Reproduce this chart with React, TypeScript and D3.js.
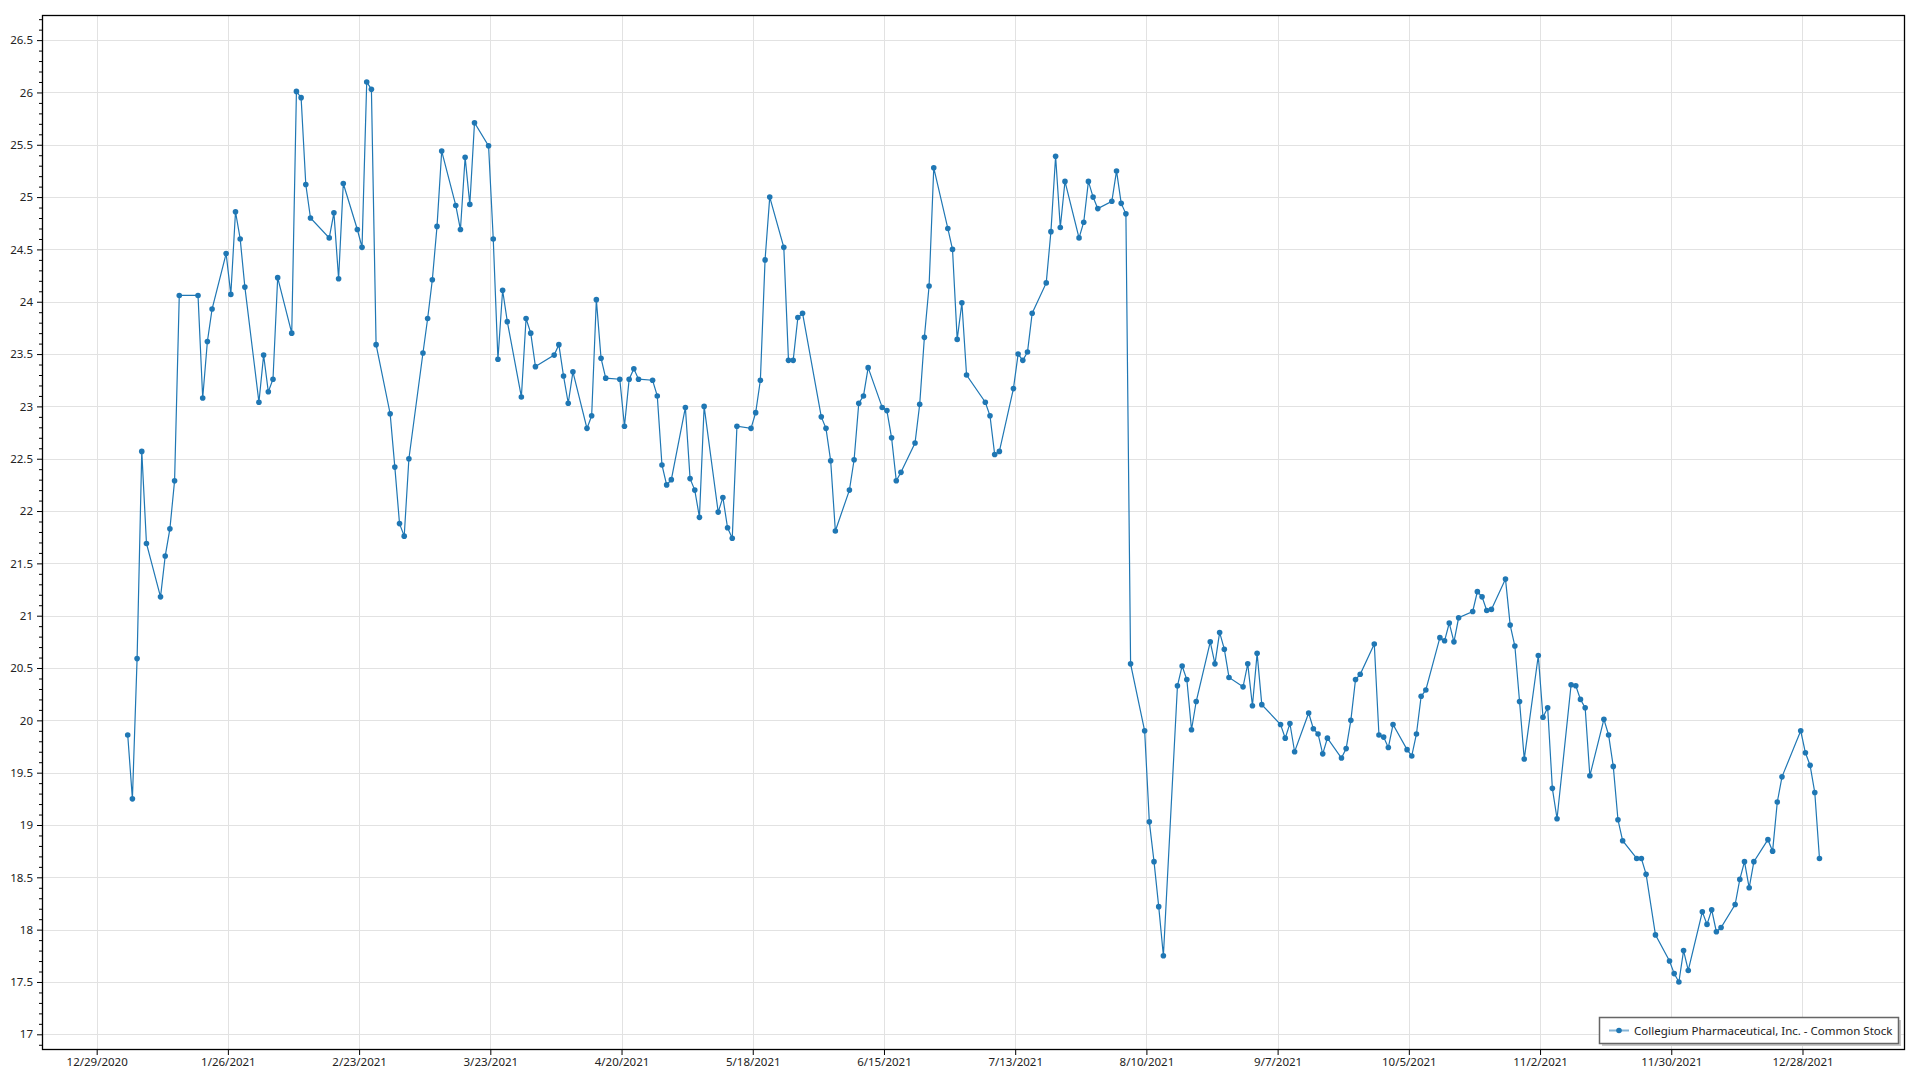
import { useEffect, useRef } from 'react';
import * as d3 from 'd3';

// trading days of 2021 (M/D) and closing prices
const tradeDates = [
  '1/4', '1/5', '1/6', '1/7', '1/8', '1/11', '1/12', '1/13', '1/14', '1/15', '1/19', '1/20', '1/21', '1/22', '1/25', '1/26', '1/27', '1/28', '1/29',
  '2/1', '2/2', '2/3', '2/4', '2/5', '2/8', '2/9', '2/10', '2/11', '2/12', '2/16', '2/17', '2/18', '2/19', '2/22', '2/23', '2/24', '2/25', '2/26',
  '3/1', '3/2', '3/3', '3/4', '3/5', '3/8', '3/9', '3/10', '3/11', '3/12', '3/15', '3/16', '3/17', '3/18', '3/19', '3/22', '3/23', '3/24', '3/25', '3/26', '3/29', '3/30', '3/31',
  '4/1', '4/5', '4/6', '4/7', '4/8', '4/9', '4/12', '4/13', '4/14', '4/15', '4/16', '4/19', '4/20', '4/21', '4/22', '4/23', '4/26', '4/27', '4/28', '4/29', '4/30',
  '5/3', '5/4', '5/5', '5/6', '5/7', '5/10', '5/11', '5/12', '5/13', '5/14', '5/17', '5/18', '5/19', '5/20', '5/21', '5/24', '5/25', '5/26', '5/27', '5/28',
  '6/1', '6/2', '6/3', '6/4', '6/7', '6/8', '6/9', '6/10', '6/11', '6/14', '6/15', '6/16', '6/17', '6/18', '6/21', '6/22', '6/23', '6/24', '6/25', '6/28', '6/29', '6/30',
  '7/1', '7/2', '7/6', '7/7', '7/8', '7/9', '7/12', '7/13', '7/14', '7/15', '7/16', '7/19', '7/20', '7/21', '7/22', '7/23', '7/26', '7/27', '7/28', '7/29', '7/30',
  '8/2', '8/3', '8/4', '8/5', '8/6', '8/9', '8/10', '8/11', '8/12', '8/13', '8/16', '8/17', '8/18', '8/19', '8/20', '8/23', '8/24', '8/25', '8/26', '8/27', '8/30', '8/31',
  '9/1', '9/2', '9/3', '9/7', '9/8', '9/9', '9/10', '9/13', '9/14', '9/15', '9/16', '9/17', '9/20', '9/21', '9/22', '9/23', '9/24', '9/27', '9/28', '9/29', '9/30',
  '10/1', '10/4', '10/5', '10/6', '10/7', '10/8', '10/11', '10/12', '10/13', '10/14', '10/15', '10/18', '10/19', '10/20', '10/21', '10/22', '10/25', '10/26', '10/27', '10/28', '10/29',
  '11/1', '11/2', '11/3', '11/4', '11/5', '11/8', '11/9', '11/10', '11/11', '11/12', '11/15', '11/16', '11/17', '11/18', '11/19', '11/22', '11/23', '11/24', '11/26', '11/29', '11/30',
  '12/1', '12/2', '12/3', '12/6', '12/7', '12/8', '12/9', '12/10', '12/13', '12/14', '12/15', '12/16', '12/17', '12/20', '12/21', '12/22', '12/23', '12/27', '12/28', '12/29', '12/30', '12/31',
];

const closePrices = [
  19.86, 19.25, 20.59, 22.57, 21.69, 21.18, 21.57, 21.83, 22.29, 24.06, 24.06, 23.08, 23.62, 23.93, 24.46, 24.07, 24.86, 24.6, 24.14,
  23.04, 23.49, 23.14, 23.26, 24.23, 23.7, 26.01, 25.95, 25.12, 24.8, 24.61, 24.85, 24.22, 25.13, 24.69, 24.52, 26.1, 26.03, 23.59,
  22.93, 22.42, 21.88, 21.76, 22.5, 23.51, 23.84, 24.21, 24.72, 25.44, 24.92, 24.69, 25.38, 24.93, 25.71, 25.49, 24.6, 23.45, 24.11, 23.81, 23.09, 23.84, 23.7,
  23.38, 23.49, 23.59, 23.29, 23.03, 23.33, 22.79, 22.91, 24.02, 23.46, 23.27, 23.26, 22.81, 23.26, 23.36, 23.26, 23.25, 23.1, 22.44, 22.25, 22.3,
  22.99, 22.31, 22.2, 21.94, 23.0, 21.99, 22.13, 21.84, 21.74, 22.81, 22.79, 22.94, 23.25, 24.4, 25.0, 24.52, 23.44, 23.44, 23.85, 23.89,
  22.9, 22.79, 22.48, 21.81, 22.2, 22.49, 23.03, 23.1, 23.37, 22.99, 22.96, 22.7, 22.29, 22.37, 22.65, 23.02, 23.66, 24.15, 25.28, 24.7, 24.5, 23.64,
  23.99, 23.3, 23.04, 22.91, 22.54, 22.57, 23.17, 23.5, 23.44, 23.52, 23.89, 24.18, 24.67, 25.39, 24.71, 25.15, 24.61, 24.76, 25.15, 25.0, 24.89,
  24.96, 25.25, 24.94, 24.84, 20.54, 19.9, 19.03, 18.65, 18.22, 17.75, 20.33, 20.52, 20.39, 19.91, 20.18, 20.75, 20.54, 20.84, 20.68, 20.41, 20.32, 20.54,
  20.14, 20.64, 20.15, 19.96, 19.83, 19.97, 19.7, 20.07, 19.92, 19.87, 19.68, 19.83, 19.64, 19.73, 20.0, 20.39, 20.44, 20.73, 19.86, 19.84, 19.74,
  19.96, 19.72, 19.66, 19.87, 20.23, 20.29, 20.79, 20.76, 20.93, 20.75, 20.98, 21.04, 21.23, 21.18, 21.05, 21.06, 21.35, 20.91, 20.71, 20.18, 19.63,
  20.62, 20.03, 20.12, 19.35, 19.06, 20.34, 20.33, 20.2, 20.12, 19.47, 20.01, 19.86, 19.56, 19.05, 18.85, 18.68, 18.68, 18.53, 17.95, 17.7, 17.58,
  17.5, 17.8, 17.61, 18.17, 18.05, 18.19, 17.98, 18.02, 18.24, 18.48, 18.65, 18.4, 18.65, 18.86, 18.75, 19.22, 19.46, 19.9, 19.69, 19.57, 19.31, 18.68,
];

const xTickLabels = [
  '12/29/2020', '1/26/2021', '2/23/2021', '3/23/2021', '4/20/2021', '5/18/2021', '6/15/2021',
  '7/13/2021', '8/10/2021', '9/7/2021', '10/5/2021', '11/2/2021', '11/30/2021', '12/28/2021',
];

const yTickLabels = ['17', '17.5', '18', '18.5', '19', '19.5', '20', '20.5', '21', '21.5', '22', '22.5', '23', '23.5', '24', '24.5', '25', '25.5', '26', '26.5'];

const seriesName = 'Collegium Pharmaceutical, Inc. - Common Stock';

const width = 1920;
const height = 1080;
const margin = { top: 15, right: 15, bottom: 30, left: 42 };
const lineColor = '#1f77b4';
const font = '"Noto Sans", "Open Sans", sans-serif';

function toDate(s: string, year?: number, hour = 0) {
  const [m, d, y] = s.split('/').map(Number);
  return new Date(year ?? y, m - 1, d, hour);
}

export default function App() {
  const ref = useRef<SVGSVGElement>(null);

  useEffect(() => {
    const svg = d3.select(ref.current);
    svg.selectAll('*').remove();

    const data = tradeDates.map((d, i) => ({ date: toDate(d, 2021, 15), value: closePrices[i] }));
    const xTicks = xTickLabels.map(s => toDate(s));
    const yTicks = yTickLabels.map(Number);

    const x = d3
      .scaleTime()
      .domain([new Date(2020, 11, 17, 8), new Date(2022, 0, 18, 21)])
      .range([margin.left, width - margin.right]);
    const y = d3
      .scaleLinear()
      .domain([16.85, 26.74])
      .range([height - margin.bottom, margin.top]);

    const minorTicks = d3.range(169, 268).map(v => v / 10).filter(v => Math.round(v * 10) % 5 !== 0);

    // grid
    const grid = svg.append('g').attr('class', 'grid');
    grid
      .selectAll('line.v')
      .data(xTicks)
      .enter()
      .append('line')
      .attr('class', 'v')
      .attr('x1', d => Math.round(x(d)) + 0.5)
      .attr('x2', d => Math.round(x(d)) + 0.5)
      .attr('y1', margin.top)
      .attr('y2', height - margin.bottom)
      .attr('stroke', '#e2e2e2');
    grid
      .selectAll('line.h')
      .data(yTicks)
      .enter()
      .append('line')
      .attr('class', 'h')
      .attr('x1', margin.left)
      .attr('x2', width - margin.right)
      .attr('y1', d => Math.round(y(d)) + 0.5)
      .attr('y2', d => Math.round(y(d)) + 0.5)
      .attr('stroke', '#e2e2e2');

    // axes
    const yAxis = d3
      .axisLeft(y)
      .tickValues(yTicks)
      .tickSize(5)
      .tickPadding(4)
      .tickFormat((d, i) => yTickLabels[i]);
    const yMinor = d3.axisLeft(y).tickValues(minorTicks).tickSize(3).tickFormat(() => '');
    const xAxis = d3
      .axisBottom(x)
      .tickValues(xTicks)
      .tickSize(5)
      .tickPadding(3)
      .tickFormat((d, i) => xTickLabels[i]);

    svg.append('g').attr('transform', `translate(${margin.left},0)`).call(yMinor);
    svg.append('g').attr('transform', `translate(${margin.left},0)`).call(yAxis);
    svg.append('g').attr('transform', `translate(0,${height - margin.bottom})`).call(xAxis);
    svg.selectAll('.domain').remove();
    svg
      .selectAll('.tick text')
      .attr('font-family', font)
      .attr('font-size', 11.5)
      .attr('fill', '#222');
    svg.selectAll('.tick line').attr('stroke', '#000');

    // frame
    svg
      .append('rect')
      .attr('x', margin.left + 0.5)
      .attr('y', margin.top + 0.5)
      .attr('width', width - margin.left - margin.right - 1)
      .attr('height', height - margin.top - margin.bottom - 1)
      .attr('fill', 'none')
      .attr('stroke', '#000')
      .attr('stroke-width', 1.3);

    // series
    const line = d3
      .line<{ date: Date; value: number }>()
      .x(d => x(d.date))
      .y(d => y(d.value));
    svg
      .append('path')
      .datum(data)
      .attr('d', line)
      .attr('fill', 'none')
      .attr('stroke', lineColor)
      .attr('stroke-width', 1.2);
    svg
      .append('g')
      .selectAll('circle')
      .data(data)
      .enter()
      .append('circle')
      .attr('cx', d => x(d.date))
      .attr('cy', d => y(d.value))
      .attr('r', 2.8)
      .attr('fill', lineColor);

    // legend
    const legend = svg.append('g').attr('transform', 'translate(1599, 1017)');
    legend
      .append('rect')
      .attr('x', 3)
      .attr('y', 3)
      .attr('width', 299)
      .attr('height', 26)
      .attr('fill', '#c8c8c8');
    legend
      .append('rect')
      .attr('x', 0.5)
      .attr('y', 0.5)
      .attr('width', 299)
      .attr('height', 26)
      .attr('fill', '#fff')
      .attr('stroke', '#666')
      .attr('stroke-width', 1.5);
    legend
      .append('line')
      .attr('x1', 10)
      .attr('x2', 30)
      .attr('y1', 13.5)
      .attr('y2', 13.5)
      .attr('stroke', lineColor)
      .attr('stroke-opacity', 0.55)
      .attr('stroke-width', 2);
    legend.append('circle').attr('cx', 20).attr('cy', 13.5).attr('r', 2.8).attr('fill', lineColor);
    legend
      .append('text')
      .text(seriesName)
      .attr('x', 35)
      .attr('y', 17.5)
      .attr('font-family', font)
      .attr('font-size', 11.5)
      .attr('fill', '#222');
  }, []);

  return (
    <svg
      ref={ref}
      width={width}
      height={height}
      style={{ position: 'absolute', left: 0, top: 0, background: '#fff' }}
    />
  );
}
